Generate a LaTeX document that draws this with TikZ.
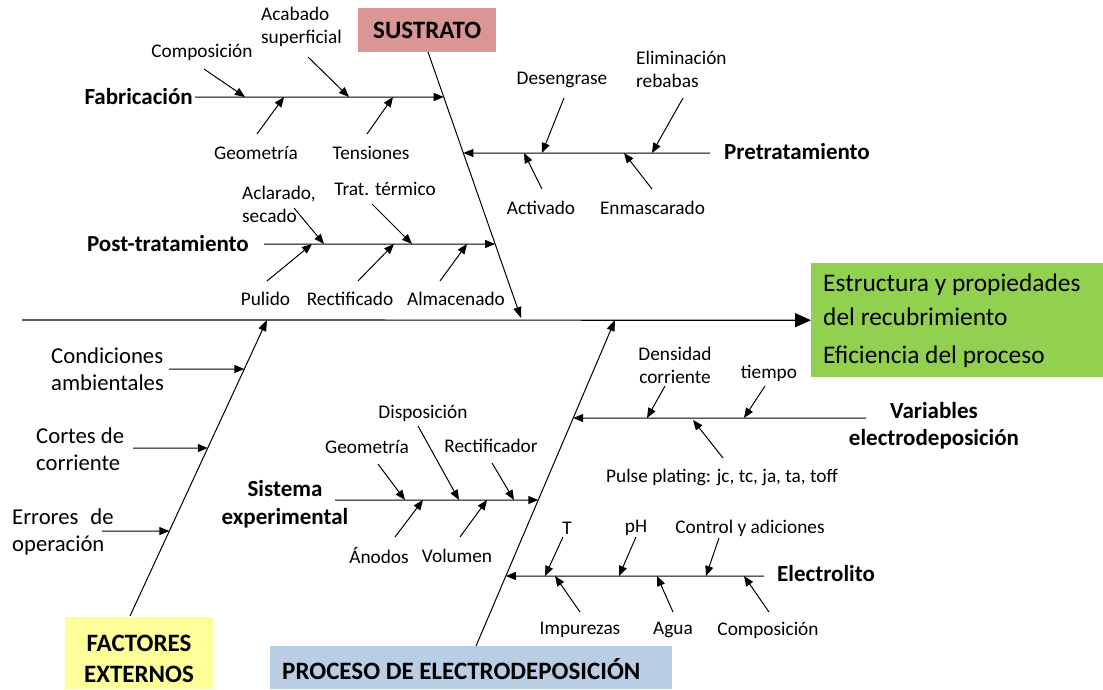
\documentclass[tikz,border=0pt]{standalone}
\usepackage{fontspec}
\setmainfont{Carlito}
\usetikzlibrary{arrows.meta}
\definecolor{sustr}{RGB}{217,150,148}
\definecolor{effg}{RGB}{146,208,80}
\definecolor{facty}{RGB}{255,255,153}
\definecolor{procb}{RGB}{185,205,229}
\begin{document}
\begin{tikzpicture}[x=1pt,y=-1pt,
 lbl/.style={inner sep=0pt, font=\fontsize{19.3}{23}\selectfont, align=center},
 biglbl/.style={inner sep=0pt, font=\fontsize{22.7}{27}\selectfont, align=left, anchor=west},
 cat/.style={inner sep=0pt, font=\bfseries\fontsize{23}{27.5}\selectfont, align=center},
 ttl/.style={inner sep=0pt, font=\bfseries\fontsize{25}{31}\selectfont, align=center},
 efftxt/.style={inner sep=0pt, font=\fontsize{25.4}{30}\selectfont, anchor=west},
 boxn/.style={anchor=north west, inner sep=0pt, draw=none},
 sub/.style={line width=1pt, -{Triangle[length=10pt,width=8pt]}},
 bonearr/.style={line width=1pt, -{Triangle[length=11pt,width=8pt]}},
 spine/.style={line width=1.2pt, -{Triangle[length=16pt,width=14pt]}},
]
\useasboundingbox (0,0) rectangle (1103,689);

% ---------- boxes ----------
\node[boxn, fill=sustr, minimum width=138pt, minimum height=44pt,
      font=\bfseries\fontsize{25}{31}\selectfont] (sus) at (358,8) {SUSTRATO};
\node[boxn, fill=effg, minimum width=292pt, minimum height=114pt] (eff) at (811,263) {};
\node[efftxt] (eff1) at (823,285) {Estructura y propiedades};
\node[efftxt] (eff2) at (823,317) {del recubrimiento};
\node[efftxt] (eff3) at (823,357) {Eficiencia del proceso};
\node[boxn, fill=facty, minimum width=148pt, minimum height=72pt] (fac) at (65,617) {};
\node[ttl] (factxt) at (139,658.5) {FACTORES\\EXTERNOS};
\node[boxn, fill=procb, minimum width=402pt, minimum height=43pt] (pro) at (270,646) {};
\node[ttl, anchor=west] (protxt) at (282,669) {PROCESO DE ELECTRODEPOSICIÓN};

% ---------- main spine ----------
\coordinate (spL) at (22,320);
\draw[spine] (spL) -- (eff.west);

% ---------- bones ----------
\coordinate (susA) at (428,52);
\coordinate (susB) at (521,318);
\draw[bonearr] (susA) -- (susB);
\coordinate (facA) at (130,616);
\coordinate (facB) at (267,320);
\draw[bonearr] (facA) -- (facB);
\coordinate (proA) at (476,646);
\coordinate (proB) at (615,320);
\draw[bonearr] (proA) -- (proB);

% ---------- Fabricacion ----------
\node[cat, anchor=east] (fab) at (193,97) {Fabricación};
\coordinate (fabL) at (195,97);
\coordinate (fabR) at (700,97);
\draw[sub] (fabL) -- (intersection of susA--susB and fabL--fabR);
\node[lbl] (comp) at (202,52) {Composición};
\node[lbl, align=left, anchor=west] (acab) at (261,26.5) {Acabado\\superficial};
\node[lbl] (geo) at (256,153) {Geometría};
\node[lbl] (tens) at (371,153) {Tensiones};
\coordinate (compT) at (204,69);  \coordinate (compH) at (245,97);
\coordinate (acabT) at (308,57);  \coordinate (acabH) at (349,97);
\coordinate (geoT) at (257,134);  \coordinate (geoH) at (284,97);
\coordinate (tenT) at (367,134);  \coordinate (tenH) at (393,97);
\draw[sub] (compT) -- (compH);
\draw[sub] (acabT) -- (acabH);
\draw[sub] (geoT) -- (geoH);
\draw[sub] (tenT) -- (tenH);

% ---------- Pretratamiento ----------
\node[cat, anchor=west] (pre) at (724,152) {Pretratamiento};
\coordinate (preR) at (710,153);
\coordinate (preL) at (300,153);
\draw[sub] (preR) -- (intersection of susA--susB and preR--preL);
\node[lbl] (des) at (562,80) {Desengrase};
\node[lbl, align=left, anchor=west] (elim) at (636,69) {Eliminación\\rebabas};
\node[lbl] (act) at (541,208) {Activado};
\node[lbl] (enm) at (652.5,208) {Enmascarado};
\coordinate (desT) at (564,98);   \coordinate (desH) at (542,153);
\coordinate (elimT) at (683,98);  \coordinate (elimH) at (652,153);
\coordinate (actT) at (542,189);  \coordinate (actH) at (524,153);
\coordinate (enmT) at (652,189);  \coordinate (enmH) at (624,153);
\draw[sub] (desT) -- (desH);
\draw[sub] (elimT) -- (elimH);
\draw[sub] (actT) -- (actH);
\draw[sub] (enmT) -- (enmH);

% ---------- Post-tratamiento ----------
\node[cat, anchor=east] (post) at (249,244) {Post-tratamiento};
\coordinate (postL) at (264,244);
\coordinate (postR) at (700,244);
\draw[sub] (postL) -- (intersection of susA--susB and postL--postR);
\node[lbl, align=left, anchor=west] (acl) at (242,204.5) {Aclarado,\\secado};
\node[lbl] (tra) at (385,189) {Trat. térmico};
\node[lbl] (pul) at (265.5,299) {Pulido};
\node[lbl] (rec) at (350,299) {Rectificado};
\node[lbl] (alm) at (456,299) {Almacenado};
\coordinate (aclT) at (294,208);  \coordinate (aclH) at (324,244);
\coordinate (traT) at (372,204);  \coordinate (traH) at (412,244);
\coordinate (pulT) at (267,281);  \coordinate (pulH) at (312,244);
\coordinate (recT) at (358,281);  \coordinate (recH) at (394,244);
\coordinate (almT) at (440,281);  \coordinate (almH) at (467,244);
\draw[sub] (aclT) -- (aclH);
\draw[sub] (traT) -- (traH);
\draw[sub] (pulT) -- (pulH);
\draw[sub] (recT) -- (recH);
\draw[sub] (almT) -- (almH);

% ---------- Factores externos ----------
\node[biglbl] (con) at (51,369.5) {Condiciones\\ambientales};
\node[biglbl] (cor) at (36,449.5) {Cortes de\\corriente};
\node[biglbl] (err) at (12,532) {Errores\hspace{0.3em} de\\operación};
\coordinate (conL) at (169,369); \coordinate (conR) at (400,369);
\coordinate (corL) at (133,448); \coordinate (corR) at (400,448);
\coordinate (errL) at (102,531); \coordinate (errR) at (400,531);
\draw[sub] (conL) -- (intersection of facA--facB and conL--conR);
\draw[sub] (corL) -- (intersection of facA--facB and corL--corR);
\draw[sub] (errL) -- (intersection of facA--facB and errL--errR);

% ---------- Sistema experimental ----------
\node[cat] (sis) at (285,504) {Sistema\\experimental};
\coordinate (sisL) at (335,500);
\coordinate (sisR) at (800,500);
\draw[sub] (sisL) -- (intersection of proA--proB and sisL--sisR);
\node[lbl] (sgeo) at (367,447) {Geometría};
\node[lbl] (dis) at (423,413) {Disposición};
\node[lbl] (rect) at (491,446) {Rectificador};
\node[lbl] (ano) at (379,556) {Ánodos};
\node[lbl] (vol) at (457,556) {Volumen};
\coordinate (sgeoT) at (378,464); \coordinate (sgeoH) at (405,500);
\coordinate (disT) at (418,426);  \coordinate (disH) at (459,500);
\coordinate (rectT) at (492,463); \coordinate (rectH) at (514,500);
\coordinate (anoT) at (395,537);  \coordinate (anoH) at (423,500);
\coordinate (volT) at (460,537);  \coordinate (volH) at (487,500);
\draw[sub] (sgeoT) -- (sgeoH);
\draw[sub] (disT) -- (disH);
\draw[sub] (rectT) -- (rectH);
\draw[sub] (anoT) -- (anoH);
\draw[sub] (volT) -- (volH);

% ---------- Variables electrodeposicion ----------
\node[cat] (var) at (934,425.5) {Variables\\electrodeposición};
\coordinate (varR) at (866,418);
\coordinate (varL) at (300,418);
\draw[sub] (varR) -- (intersection of proA--proB and varR--varL);
\node[lbl, align=center] (den) at (675,365) {Densidad\\corriente};
\node[lbl] (tie) at (769,373) {tiempo};
\node[lbl] (puls) at (722,477) {Pulse plating: jc, tc, ja, ta, toff};
\coordinate (denT) at (665,386);  \coordinate (denH) at (647,418);
\coordinate (tieT) at (765,386);  \coordinate (tieH) at (744,418);
\coordinate (pulsT) at (723,458); \coordinate (pulsH) at (693,420);
\draw[sub] (denT) -- (denH);
\draw[sub] (tieT) -- (tieH);
\draw[sub] (pulsT) -- (pulsH);

% ---------- Electrolito ----------
\node[cat, anchor=west] (ele) at (777,574) {Electrolito};
\coordinate (eleR) at (764,576);
\coordinate (eleL) at (300,576);
\draw[sub] (eleR) -- (intersection of proA--proB and eleR--eleL);
\node[lbl] (tt) at (567,528) {T};
\node[lbl] (ph) at (636,528) {pH};
\node[lbl] (ctrl) at (750,528) {Control y adiciones};
\node[lbl] (imp) at (580,630) {Impurezas};
\node[lbl] (agu) at (673,630) {Agua};
\node[lbl] (ecomp) at (768,630) {Composición};
\coordinate (tT) at (563,537);     \coordinate (tH) at (545,576);
\coordinate (phT) at (636,537);    \coordinate (phH) at (619,576);
\coordinate (ctrlT) at (719,538);  \coordinate (ctrlH) at (706,576);
\coordinate (impT) at (580,612);   \coordinate (impH) at (555,576);
\coordinate (aguT) at (673,612);   \coordinate (aguH) at (657,576);
\coordinate (ecompT) at (769,612); \coordinate (ecompH) at (744,576);
\draw[sub] (tT) -- (tH);
\draw[sub] (phT) -- (phH);
\draw[sub] (ctrlT) -- (ctrlH);
\draw[sub] (impT) -- (impH);
\draw[sub] (aguT) -- (aguH);
\draw[sub] (ecompT) -- (ecompH);
\end{tikzpicture}
\end{document}
